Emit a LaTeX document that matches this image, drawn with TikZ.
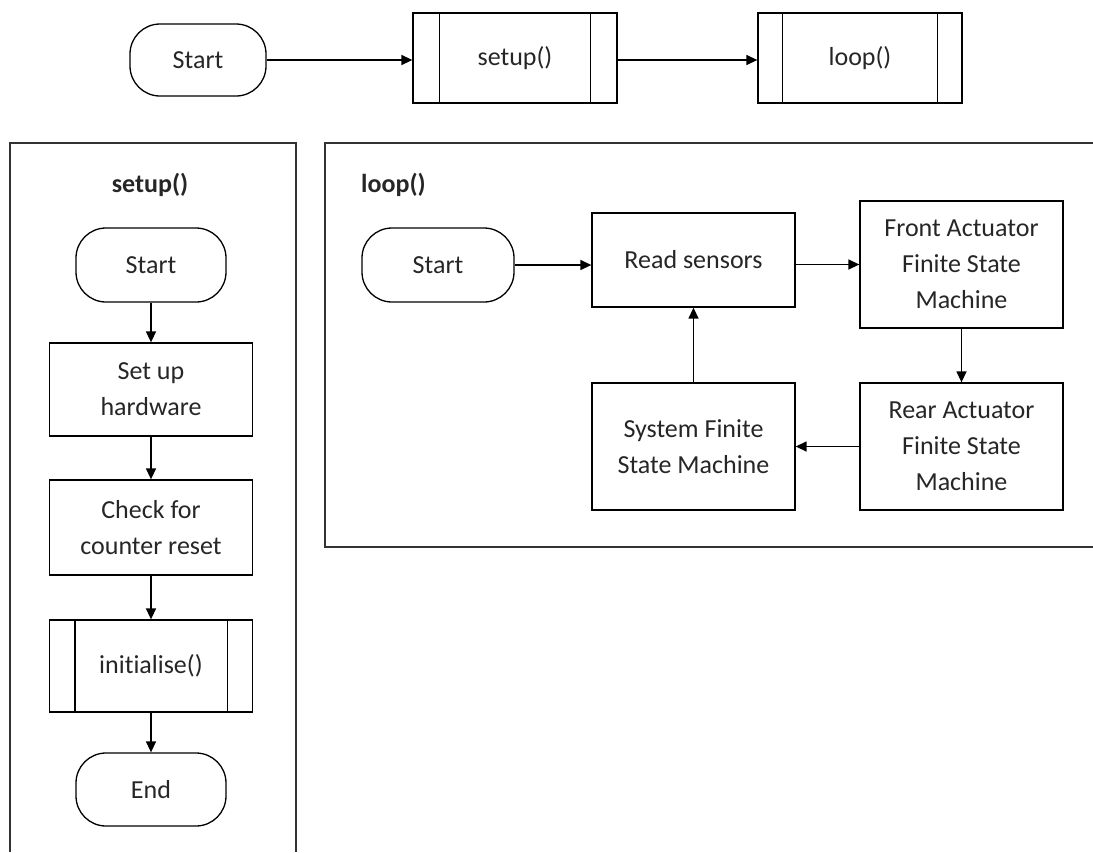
\documentclass[tikz,border=0pt]{standalone}
\usepackage{fontspec}
\setmainfont{Carlito}[Ligatures=NoCommon]
\usetikzlibrary{arrows.meta}
\begin{document}
\begin{tikzpicture}[x=1pt,y=-1pt,
  every node/.style={font=\fontsize{26}{36}\selectfont, align=center, inner sep=0pt, text=black!85},
  term/.style={draw, rounded corners=30pt, line width=1.3pt},
  proc/.style={draw, line width=1.3pt},
  panel/.style={draw=black!80, line width=1.3pt},
  arr/.style={-{Triangle[length=11pt,width=10pt]}, line width=1.4pt},
  title/.style={font=\fontsize{26}{36}\selectfont\bfseries}]
\useasboundingbox (0,0) rectangle (1093,852);

% top row
\node[term, minimum width=136pt, minimum height=72pt] (s0) at (198,60) {Start};
\node[proc, minimum width=204pt, minimum height=90pt] (su) at (515,58) {setup()};
\node[proc, minimum width=204pt, minimum height=90pt] (lp) at (860,58) {loop()};
\draw[proc] ([xshift=27pt]su.north west) -- ([xshift=27pt]su.south west);
\draw[proc] ([xshift=-27pt]su.north east) -- ([xshift=-27pt]su.south east);
\draw[proc] ([xshift=25pt]lp.north west) -- ([xshift=25pt]lp.south west);
\draw[proc] ([xshift=-25pt]lp.north east) -- ([xshift=-25pt]lp.south east);
\draw[arr] (s0.east) -- (s0.east -| su.west);
\draw[arr] (su.east |- s0.east) -- (s0.east -| lp.west);

% setup panel
\coordinate (p1a) at (10,852);
\coordinate (p1b) at (10,143);
\coordinate (p1c) at (296,143);
\coordinate (p1d) at (296,852);
\draw[panel] (p1a) -- (p1b) -- (p1c) -- (p1d);
\node[title] (t1) at (150,185) {setup()};
\node[term, minimum width=150pt, minimum height=74pt] (ss) at (151,265) {Start};
\node[proc, minimum width=203pt, minimum height=93pt] (hw) at (151,389.5) {Set up\\hardware};
\node[proc, minimum width=203pt, minimum height=95pt] (ck) at (151,527.5) {Check for\\counter reset};
\node[proc, minimum width=203pt, minimum height=92pt] (in) at (151,666) {initialise()};
\draw[proc] ([xshift=26pt]in.north west) -- ([xshift=26pt]in.south west);
\draw[proc] ([xshift=-26pt]in.north east) -- ([xshift=-26pt]in.south east);
\node[term, minimum width=150pt, minimum height=73pt] (en) at (151,789.5) {End};
\draw[arr] (ss.south) -- (hw.north);
\draw[arr] (hw.south) -- (ck.north);
\draw[arr] (ck.south) -- (in.north);
\draw[arr] (in.south) -- (en.north);

% loop panel
\coordinate (p2a) at (1093,143);
\coordinate (p2b) at (325,143);
\coordinate (p2c) at (325,547);
\coordinate (p2d) at (1093,547);
\draw[panel] (p2a) -- (p2b) -- (p2c) -- (p2d);
\node[title, anchor=west] (t2) at (361,185) {loop()};
\node[term, minimum width=152pt, minimum height=74pt] (ls) at (438,265) {Start};
\node[proc, minimum width=203pt, minimum height=94pt] (rs) at (693.5,260) {Read sensors};
\node[proc, minimum width=203pt, minimum height=127pt] (fa) at (961.5,264.5) {Front Actuator\\Finite State\\Machine};
\node[proc, minimum width=203pt, minimum height=127pt] (ra) at (961.5,446.5) {Rear Actuator\\Finite State\\Machine};
\node[proc, minimum width=203pt, minimum height=127pt] (sy) at (693.5,446.5) {System Finite\\State Machine};
\draw[arr] (ls.east) -- (ls.east -| rs.west);
\draw[arr] (rs.east |- fa.west) -- (fa.west);
\draw[arr] (fa.south) -- (ra.north);
\draw[arr] (ra.west) -- (sy.east);
\draw[arr] (sy.north) -- (rs.south);
\end{tikzpicture}
\end{document}
